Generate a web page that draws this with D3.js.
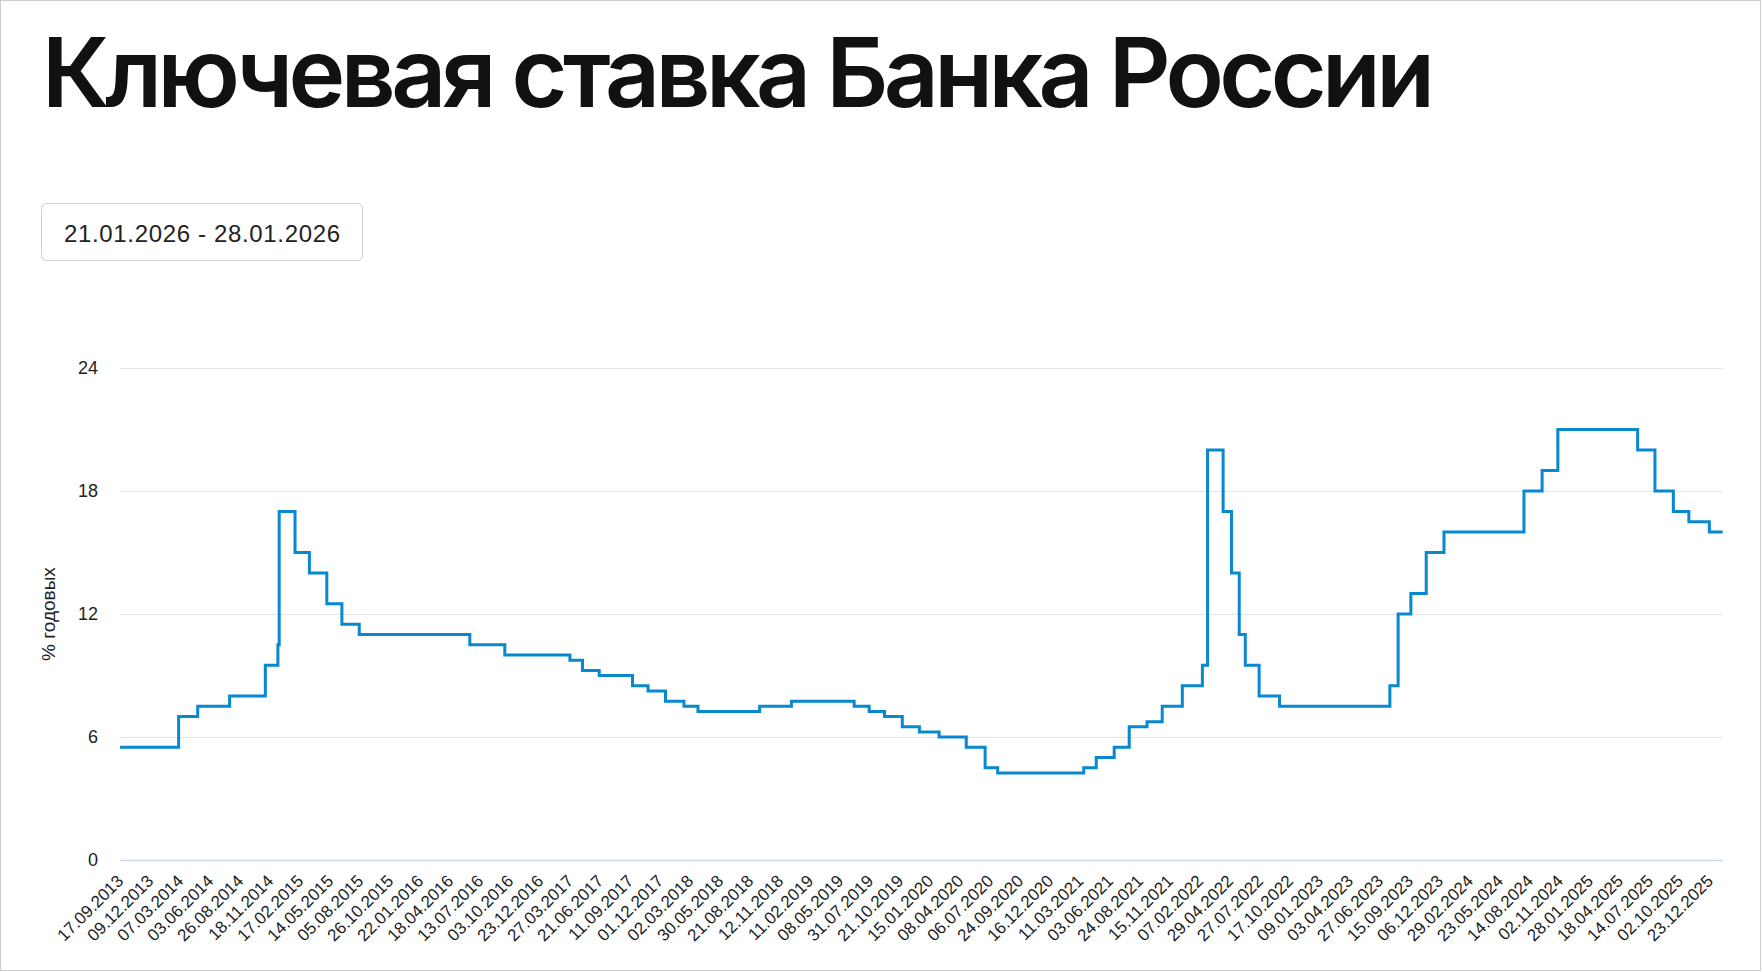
<!DOCTYPE html>
<html>
<head>
<meta charset="utf-8">
<script src="https://cdn.jsdelivr.net/npm/d3@7/dist/d3.min.js"></script>
<style>
  html, body { margin: 0; padding: 0; background: #fff; }
  svg { display: block; }
</style>
</head>
<body>
<svg id="chart" width="1763" height="972"></svg>
<script>
// ---------- DATA ----------
const titleText = "Ключевая ставка Банка России";
const rangeText = "21.01.2026 - 28.01.2026";
const yAxisTitle = "% годовых";

// x-axis tick labels (every 60 working days)
const tickLabels = [
  "17.09.2013","09.12.2013","07.03.2014","03.06.2014","26.08.2014","18.11.2014",
  "17.02.2015","14.05.2015","05.08.2015","26.10.2015","22.01.2016","18.04.2016",
  "13.07.2016","03.10.2016","23.12.2016","27.03.2017","21.06.2017","11.09.2017",
  "01.12.2017","02.03.2018","30.05.2018","21.08.2018","12.11.2018","11.02.2019",
  "08.05.2019","31.07.2019","21.10.2019","15.01.2020","08.04.2020","06.07.2020",
  "24.09.2020","16.12.2020","11.03.2021","03.06.2021","24.08.2021","15.11.2021",
  "07.02.2022","29.04.2022","27.07.2022","17.10.2022","09.01.2023","03.04.2023",
  "27.06.2023","15.09.2023","06.12.2023","29.02.2024","23.05.2024","14.08.2024",
  "02.11.2024","28.01.2025","18.04.2025","14.07.2025","02.10.2025","23.12.2025"
];
const lastDate = "28.01.2026";
const workDaysPerTick = 60;
const workDaysAfterLastTick = 26;

// rate change dates and values (% per annum)
const changeDates = [
  "17.09.2013","03.03.2014","28.04.2014","28.07.2014","05.11.2014","12.12.2014",
  "16.12.2014","02.02.2015","16.03.2015","05.05.2015","16.06.2015","03.08.2015",
  "14.06.2016","19.09.2016","27.03.2017","02.05.2017","19.06.2017","18.09.2017",
  "30.10.2017","18.12.2017","12.02.2018","26.03.2018","17.09.2018","17.12.2018",
  "17.06.2019","29.07.2019","09.09.2019","28.10.2019","16.12.2019","10.02.2020",
  "27.04.2020","22.06.2020","27.07.2020","22.03.2021","26.04.2021","15.06.2021",
  "26.07.2021","13.09.2021","25.10.2021","20.12.2021","14.02.2022","28.02.2022",
  "11.04.2022","04.05.2022","27.05.2022","14.06.2022","25.07.2022","19.09.2022",
  "24.07.2023","15.08.2023","18.09.2023","30.10.2023","18.12.2023","29.07.2024",
  "16.09.2024","28.10.2024","09.06.2025","28.07.2025","15.09.2025","27.10.2025",
  "22.12.2025","28.01.2026"
];
const rates = [
  5.5, 7.0, 7.5, 8.0, 9.5, 10.5,
  17.0, 15.0, 14.0, 12.5, 11.5, 11.0,
  10.5, 10.0, 9.75, 9.25, 9.0, 8.5,
  8.25, 7.75, 7.5, 7.25, 7.5, 7.75,
  7.5, 7.25, 7.0, 6.5, 6.25, 6.0,
  5.5, 4.5, 4.25, 4.5, 5.0, 5.5,
  6.5, 6.75, 7.5, 8.5, 9.5, 20.0,
  17.0, 14.0, 11.0, 9.5, 8.0, 7.5,
  8.5, 12.0, 13.0, 15.0, 16.0, 18.0,
  19.0, 21.0, 20.0, 18.0, 17.0, 16.5,
  16.0, 16.0
];
const yTicks = [0, 6, 12, 18, 24];

// ---------- LAYOUT ----------
const W = 1763, H = 972;
const plot = { left: 120, right: 1722.7, top: 368, bottom: 860 };
const parse = d3.timeParse("%d.%m.%Y");

const svg = d3.select("#chart");

// frame
svg.append("rect")
  .attr("x", 0.5).attr("y", 0.5)
  .attr("width", 1760).attr("height", 970)
  .attr("fill", "#fff").attr("stroke", "#cccccc").attr("stroke-width", 1);

// title
const title = svg.append("text")
  .attr("x", 42).attr("y", 107)
  .attr("font-family", "Inter, 'Noto Sans', sans-serif")
  .attr("font-weight", 600)
  .attr("font-size", 96)
  .attr("fill", "#111111")
  .text(titleText);
{
  const w0 = title.node().getComputedTextLength();
  const target = 1393;
  const ls = (target - w0) / (titleText.length - 1);
  title.attr("letter-spacing", ls);
}

// date range box
svg.append("rect")
  .attr("x", 41.5).attr("y", 203.5)
  .attr("width", 321).attr("height", 57)
  .attr("rx", 5).attr("ry", 5)
  .attr("fill", "#fff").attr("stroke", "#cfcfcf").attr("stroke-width", 1);
const rt = svg.append("text")
  .attr("x", 64).attr("y", 241.5)
  .attr("font-family", "'Liberation Sans', Arial, sans-serif")
  .attr("font-size", 24)
  .attr("fill", "#222")
  .text(rangeText);
{
  const w0 = rt.node().getComputedTextLength();
  const ls = (276 - w0) / (rangeText.length - 1);
  rt.attr("letter-spacing", ls);
}

// scales
const tickDates = tickLabels.map(parse);
const domainDates = tickDates.concat([parse(lastDate)]);
const totalIdx = (tickLabels.length - 1) * workDaysPerTick + workDaysAfterLastTick;
const pxPerIdx = (plot.right - plot.left) / totalIdx;
const rangePx = tickLabels.map((d, i) => plot.left + i * workDaysPerTick * pxPerIdx)
  .concat([plot.right]);

const x = d3.scaleTime().domain(domainDates).range(rangePx);
const y = d3.scaleLinear().domain([0, 24]).range([plot.bottom, plot.top]);

// grid + y axis
const yAxis = d3.axisLeft(y)
  .tickValues(yTicks)
  .tickSize(-(plot.right - plot.left))
  .tickPadding(22)
  .tickFormat(d3.format("d"));
const gy = svg.append("g")
  .attr("transform", `translate(${plot.left},0)`)
  .call(yAxis);
gy.select(".domain").remove();
gy.selectAll(".tick line")
  .attr("stroke", d => d === 0 ? "#ccd6eb" : "#e6e6e6")
  .attr("stroke-width", d => d === 0 ? 1.5 : 1);
gy.selectAll(".tick text")
  .attr("font-family", "'Liberation Sans', Arial, sans-serif")
  .attr("font-size", 18)
  .attr("fill", "#222");

// y axis title
svg.append("text")
  .attr("transform", `translate(55,${(plot.top + plot.bottom) / 2}) rotate(-90)`)
  .attr("text-anchor", "middle")
  .attr("font-family", "'Liberation Sans', Arial, sans-serif")
  .attr("font-size", 19)
  .attr("fill", "#222")
  .text(yAxisTitle);

// x axis
const xAxis = d3.axisBottom(x)
  .tickValues(tickDates)
  .tickSize(0)
  .tickFormat((d, i) => tickLabels[i]);
const gx = svg.append("g")
  .attr("transform", `translate(0,${plot.bottom})`)
  .call(xAxis);
gx.select(".domain").remove();
gx.selectAll(".tick text")
  .attr("font-family", "'Liberation Sans', Arial, sans-serif")
  .attr("font-size", 17)
  .attr("fill", "#222")
  .attr("text-anchor", "end")
  .attr("dy", null)
  .attr("y", 0)
  .attr("transform", "translate(4,22) rotate(-45)");

// line
const series = changeDates.map((d, i) => ({ date: parse(d), value: rates[i] }));
const line = d3.line()
  .x(d => x(d.date))
  .y(d => y(d.value))
  .curve(d3.curveStepAfter);
svg.append("path")
  .datum(series)
  .attr("fill", "none")
  .attr("stroke", "#0788cf")
  .attr("stroke-width", 3)
  .attr("stroke-linejoin", "miter")
  .attr("d", line);
</script>
</body>
</html>
